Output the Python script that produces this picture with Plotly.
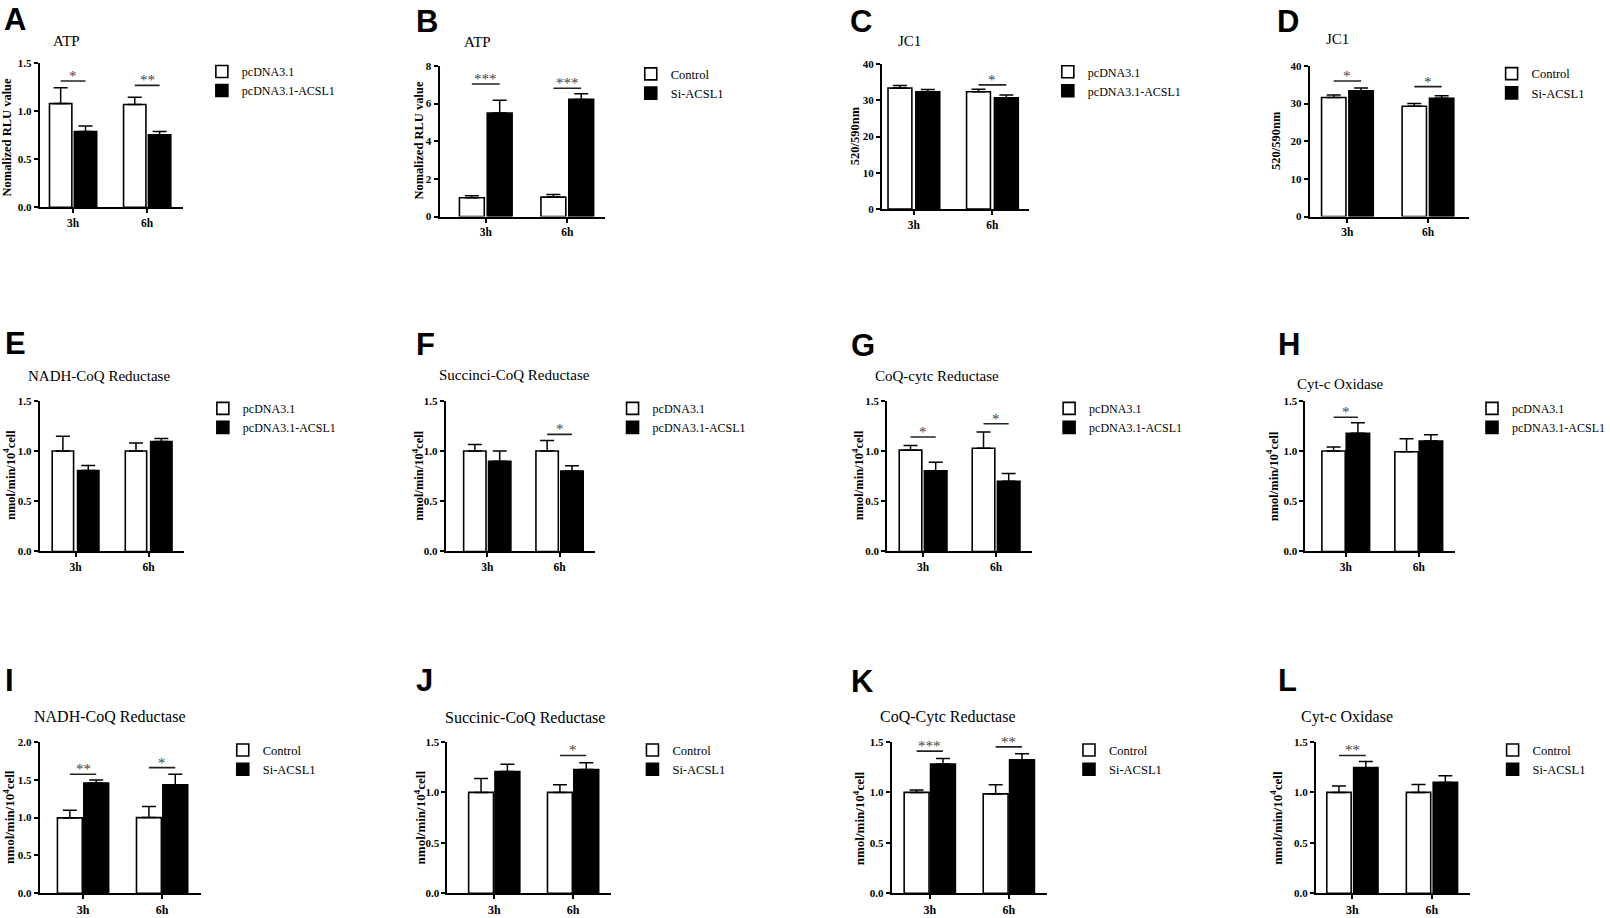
import plotly.graph_objects as go

W, H = 1610, 918

# ---------------- data ----------------
categories = ["3h", "6h"]
overexpr_groups = ["pcDNA3.1", "pcDNA3.1-ACSL1"]
knockdown_groups = ["Control", "Si-ACSL1"]

a_ctrl = [1.08, 1.07]
a_ctrl_err = [0.165, 0.075]
a_trt = [0.79, 0.755]
a_trt_err = [0.057, 0.035]
a_sig = [(0, 1.315, "*"), (1, 1.27, "**")]

b_ctrl = [1.0, 1.03]
b_ctrl_err = [0.1, 0.14]
b_trt = [5.5, 6.22]
b_trt_err = [0.67, 0.3]
b_sig = [(0, 7.04, "***"), (1, 6.81, "***")]

c_ctrl = [33.4, 32.4]
c_ctrl_err = [0.7, 0.7]
c_trt = [32.4, 30.7]
c_trt_err = [0.6, 0.8]
c_sig = [(1, 34.3, "*")]

d_ctrl = [31.6, 29.3]
d_ctrl_err = [0.7, 0.7]
d_trt = [33.4, 31.4]
d_trt_err = [0.7, 0.7]
d_sig = [(0, 36.0, "*"), (1, 34.5, "*")]

e_ctrl = [1.0, 1.0]
e_ctrl_err = [0.146, 0.08]
e_trt = [0.806, 1.094]
e_trt_err = [0.05, 0.03]
e_sig = []

f_ctrl = [1.0, 1.0]
f_ctrl_err = [0.065, 0.104]
f_trt = [0.897, 0.80]
f_trt_err = [0.103, 0.052]
f_sig = [(1, 1.166, "*")]

g_ctrl = [1.009, 1.028]
g_ctrl_err = [0.046, 0.161]
g_trt = [0.802, 0.698]
g_trt_err = [0.086, 0.078]
g_sig = [(0, 1.14, "*"), (1, 1.271, "*")]

h_ctrl = [1.0, 0.993]
h_ctrl_err = [0.04, 0.13]
h_trt = [1.176, 1.10]
h_trt_err = [0.104, 0.063]
h_sig = [(0, 1.336, "*")]

i_ctrl = [0.996, 1.0]
i_ctrl_err = [0.10, 0.148]
i_trt = [1.457, 1.435]
i_trt_err = [0.039, 0.139]
i_sig = [(0, 1.574, "**"), (1, 1.661, "*")]

j_ctrl = [1.0, 1.0]
j_ctrl_err = [0.138, 0.076]
j_trt = [1.206, 1.226]
j_trt_err = [0.072, 0.068]
j_sig = [(1, 1.366, "*")]

k_ctrl = [1.0, 0.985]
k_ctrl_err = [0.023, 0.091]
k_trt = [1.281, 1.324]
k_trt_err = [0.056, 0.058]
k_sig = [(0, 1.409, "***"), (1, 1.451, "**")]

l_ctrl = [1.0, 1.0]
l_ctrl_err = [0.063, 0.079]
l_trt = [1.245, 1.099]
l_trt_err = [0.062, 0.065]
l_sig = [(0, 1.366, "**")]

ticks_15 = [0, 0.5, 1.0, 1.5]
ticks_20 = [0, 0.5, 1.0, 1.5, 2.0]
ticks_8 = [0, 2, 4, 6, 8]
ticks_40 = [0, 10, 20, 30, 40]

rlu = "Nomalized RLU value"
jc = "520/590nm"
nmol = "nmol/min/10<sup>4</sup>cell"

panels = [
    dict(letter="A", title="ATP", ytitle=rlu, groups=overexpr_groups, ctrl=a_ctrl, ctrl_err=a_ctrl_err, trt=a_trt, trt_err=a_trt_err, sig=a_sig, ticks=ticks_15, fmt=".1f"),
    dict(letter="B", title="ATP", ytitle=rlu, groups=knockdown_groups, ctrl=b_ctrl, ctrl_err=b_ctrl_err, trt=b_trt, trt_err=b_trt_err, sig=b_sig, ticks=ticks_8, fmt="d"),
    dict(letter="C", title="JC1", ytitle=jc, groups=overexpr_groups, ctrl=c_ctrl, ctrl_err=c_ctrl_err, trt=c_trt, trt_err=c_trt_err, sig=c_sig, ticks=ticks_40, fmt="d"),
    dict(letter="D", title="JC1", ytitle=jc, groups=knockdown_groups, ctrl=d_ctrl, ctrl_err=d_ctrl_err, trt=d_trt, trt_err=d_trt_err, sig=d_sig, ticks=ticks_40, fmt="d"),
    dict(letter="E", title="NADH-CoQ Reductase", ytitle=nmol, groups=overexpr_groups, ctrl=e_ctrl, ctrl_err=e_ctrl_err, trt=e_trt, trt_err=e_trt_err, sig=e_sig, ticks=ticks_15, fmt=".1f"),
    dict(letter="F", title="Succinci-CoQ Reductase", ytitle=nmol, groups=overexpr_groups, ctrl=f_ctrl, ctrl_err=f_ctrl_err, trt=f_trt, trt_err=f_trt_err, sig=f_sig, ticks=ticks_15, fmt=".1f"),
    dict(letter="G", title="CoQ-cytc Reductase", ytitle=nmol, groups=overexpr_groups, ctrl=g_ctrl, ctrl_err=g_ctrl_err, trt=g_trt, trt_err=g_trt_err, sig=g_sig, ticks=ticks_15, fmt=".1f"),
    dict(letter="H", title="Cyt-c Oxidase", ytitle=nmol, groups=overexpr_groups, ctrl=h_ctrl, ctrl_err=h_ctrl_err, trt=h_trt, trt_err=h_trt_err, sig=h_sig, ticks=ticks_15, fmt=".1f"),
    dict(letter="I", title="NADH-CoQ Reductase", ytitle=nmol, groups=knockdown_groups, ctrl=i_ctrl, ctrl_err=i_ctrl_err, trt=i_trt, trt_err=i_trt_err, sig=i_sig, ticks=ticks_20, fmt=".1f"),
    dict(letter="J", title="Succinic-CoQ Reductase", ytitle=nmol, groups=knockdown_groups, ctrl=j_ctrl, ctrl_err=j_ctrl_err, trt=j_trt, trt_err=j_trt_err, sig=j_sig, ticks=ticks_15, fmt=".1f"),
    dict(letter="K", title="CoQ-Cytc Reductase", ytitle=nmol, groups=knockdown_groups, ctrl=k_ctrl, ctrl_err=k_ctrl_err, trt=k_trt, trt_err=k_trt_err, sig=k_sig, ticks=ticks_15, fmt=".1f"),
    dict(letter="L", title="Cyt-c Oxidase", ytitle=nmol, groups=knockdown_groups, ctrl=l_ctrl, ctrl_err=l_ctrl_err, trt=l_trt, trt_err=l_trt_err, sig=l_sig, ticks=ticks_15, fmt=".1f"),
]

# ---------------- layout geometry (pixels) ----------------
geom = {
    "A": dict(x0=40, x1=184, yt=58, yb=204, c3=73.5, c6=148, gw=47.5, bw=22.5, tx=67, ty=35, yx=7.5, yy=132.7, lx=2, ly=13.3, gx=242, gy=68.7),
    "B": dict(x0=442, x1=608, yt=60.7, yb=213.3, c3=488.5, c6=570.5, gw=53, bw=25, tx=480, ty=36, yx=421.7, yy=136, lx=416.7, ly=16, gx=673.3, gy=71),
    "C": dict(x0=887, x1=1035, yt=59, yb=205.7, c3=919, c6=998, gw=52, bw=24, tx=914.5, ty=35, yx=860, yy=131.7, lx=853, ly=16, gx=1092.7, gy=69),
    "D": dict(x0=1317, x1=1477, yt=60.7, yb=213.3, c3=1355, c6=1436, gw=52, bw=24.5, tx=1345, ty=33, yx=1283.3, yy=136.7, lx=1281.7, ly=16, gx=1539, gy=70.7),
    "E": dict(x0=40, x1=185, yt=400, yb=552.7, c3=76, c6=149.5, gw=47, bw=21.5, tx=100, ty=375, yx=9.3, yy=475, lx=3.3, ly=341.7, gx=243, gy=410),
    "F": dict(x0=448.3, x1=598.3, yt=400, yb=552.7, c3=490, c6=562.7, gw=47.5, bw=22.5, tx=517.5, ty=374, yx=420.5, yy=475.7, lx=416, ly=343.3, gx=655, gy=410),
    "G": dict(x0=892.3, x1=1037.7, yt=400, yb=552.7, c3=928.3, c6=1001.7, gw=48, bw=22.7, tx=942.5, ty=375, yx=862.3, yy=475, lx=853.3, ly=344, gx=1094, gy=410),
    "H": dict(x0=1312.7, x1=1463.3, yt=400, yb=552.7, c3=1353.3, c6=1426.7, gw=48, bw=23.5, tx=1348, ty=383, yx=1280, yy=476.7, lx=1283.3, ly=343.3, gx=1519.3, gy=410),
    "I": dict(x0=40, x1=202, yt=745.7, yb=899, c3=83.5, c6=163, gw=51.5, bw=25, tx=110.3, ty=720, yx=9, yy=821.7, lx=3.3, ly=683.5, gx=263, gy=756),
    "J": dict(x0=450, x1=614, yt=745.7, yb=899, c3=497, c6=576.3, gw=51.5, bw=25, tx=527.5, ty=720.7, yx=422, yy=822.5, lx=416.7, ly=683.5, gx=675, gy=756),
    "K": dict(x0=896.7, x1=1053.3, yt=745.7, yb=899, c3=935, c6=1014.5, gw=51.5, bw=25, tx=953, ty=720.7, yx=863.3, yy=822.5, lx=853.3, ly=684.5, gx=1114, gy=756),
    "L": dict(x0=1323.3, x1=1478.3, yt=745.7, yb=899, c3=1360, c6=1440, gw=51.5, bw=24.5, tx=1355, ty=720.7, yx=1283.3, yy=822.5, lx=1283.3, ly=683.5, gx=1540, gy=756),
}

SERIF = "Liberation Serif"
SANS = "Liberation Sans"


def px(x):
    return x / W


def py(y):
    return 1 - y / H


fig = go.Figure()
annotations = []
shapes = []
layout_extra = {}

for i, p in enumerate(panels):
    n = i + 1
    sfx = "" if n == 1 else str(n)
    xa, ya = "x" + sfx, "y" + sfx
    legend_name = "legend" + sfx
    g = geom[p["letter"]]
    row3 = p["letter"] in "IJKL"
    u = g["c6"] - g["c3"]
    bwu = g["bw"] / u
    half = g["gw"] / 2 / u
    offsets = [-half, half - bwu]
    fills = ["white", "black"]
    vals = [p["ctrl"], p["trt"]]
    errs = [p["ctrl_err"], p["trt_err"]]
    for k in range(2):
        fig.add_trace(go.Bar(
            x=categories, y=vals[k], name=p["groups"][k],
            width=bwu, offset=offsets[k],
            marker=dict(color=fills[k], line=dict(color="black", width=1.6)),
            error_y=dict(type="data", array=errs[k], arrayminus=[0, 0], symmetric=False,
                         color="black", thickness=1.5, width=7),
            xaxis=xa, yaxis=ya, legend=legend_name, showlegend=True,
        ))

    r0 = (g["x0"] - g["c3"]) / u
    r1 = (g["x1"] - g["c3"]) / u
    xtick_size = 12 if row3 else 11.5
    ytick_size = 11
    layout_extra["xaxis" + sfx] = dict(
        type="category", range=[r0, r1], domain=[px(g["x0"]), px(g["x1"])], anchor=ya,
        showline=True, linewidth=2, linecolor="black", ticks="outside", ticklen=4,
        tickwidth=1.5, tickcolor="black", showgrid=False, zeroline=False,
        tickfont=dict(family=SERIF, size=xtick_size, color="black", weight="bold"),
        fixedrange=True,
    )
    layout_extra["yaxis" + sfx] = dict(
        range=[0, p["ticks"][-1]], domain=[py(g["yb"]), py(g["yt"])], anchor=xa,
        tickvals=p["ticks"], tickformat=p["fmt"],
        showline=True, linewidth=2, linecolor="black", ticks="outside", ticklen=4,
        tickwidth=1.5, tickcolor="black", showgrid=False, zeroline=False,
        tickfont=dict(family=SERIF, size=ytick_size, color="black", weight="bold"),
        fixedrange=True,
    )
    legend_font = 12 if p["groups"] is overexpr_groups else 12.5
    layout_extra[legend_name] = dict(
        x=px(g["gx"] - 39), y=py(g["gy"] - 17), xanchor="left", yanchor="top",
        xref="paper", yref="paper", bgcolor="rgba(0,0,0,0)", borderwidth=0,
        font=dict(family=SERIF, size=legend_font, color="black"),
        tracegroupgap=0, traceorder="normal",
    )

    # significance brackets
    for (ci, yv, label) in p["sig"]:
        a = ci - half + bwu / 2
        b = ci + half - bwu / 2
        shapes.append(dict(type="line", xref=xa, yref=ya, x0=a, x1=b, y0=yv, y1=yv,
                           line=dict(color="#222", width=1.6)))
        annotations.append(dict(text=label, xref=xa, yref=ya, x=ci, y=yv, xanchor="center",
                                yanchor="bottom", yshift=-5, showarrow=False,
                                font=dict(family=SERIF, size=15, color="#444")))

    # panel letter
    annotations.append(dict(text="<b>%s</b>" % p["letter"], xref="paper", yref="paper",
                            x=px(g["lx"]), y=py(g["ly"]), xanchor="left", yanchor="middle",
                            showarrow=False, font=dict(family=SANS, size=31, color="black")))
    # panel title
    annotations.append(dict(text=p["title"], xref="paper", yref="paper",
                            x=px(g["tx"]), y=py(g["ty"]), xanchor="center", yanchor="middle",
                            showarrow=False,
                            font=dict(family=SERIF, size=16 if row3 else 15, color="black")))
    # y-axis title
    annotations.append(dict(text="<b>%s</b>" % p["ytitle"], xref="paper", yref="paper",
                            x=px(g["yx"]), y=py(g["yy"]), xanchor="center", yanchor="middle",
                            textangle=-90, showarrow=False,
                            font=dict(family=SERIF, size=13 if row3 else 12.5, color="black")))

fig.update_layout(
    width=W, height=H, margin=dict(l=0, r=0, t=0, b=0),
    paper_bgcolor="white", plot_bgcolor="white",
    barmode="group", annotations=annotations, shapes=shapes,
    **layout_extra,
)

fig.write_html(
    "out.html",
    config={"displayModeBar": False},
    post_script="document.body.style.margin='0';document.body.style.padding='0';",
)
